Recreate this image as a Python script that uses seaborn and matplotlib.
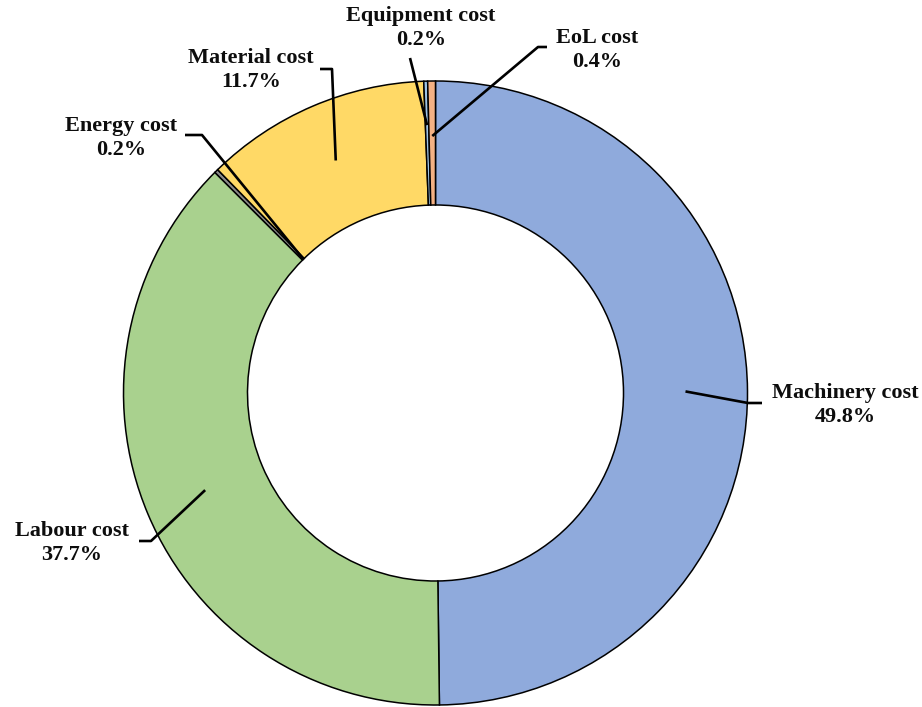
import numpy as np
import matplotlib
matplotlib.use("Agg")
import matplotlib.pyplot as plt
import seaborn as sns

# Cost breakdown (share of total, %), listed clockwise from 12 o'clock
categories = ["Machinery cost", "Labour cost", "Energy cost",
              "Material cost", "Equipment cost", "EoL cost"]
shares = [49.8, 37.7, 0.2, 11.7, 0.2, 0.4]
colors = ["#8FAADC", "#A9D18E", "#8C8C8C", "#FFD966", "#9DC3E6", "#F4B183"]

sns.set_theme(style="white")
plt.rcParams["font.family"] = ["Liberation Serif", "DejaVu Serif"]

W, H = 922, 707
fig = plt.figure(figsize=(W / 100, H / 100), dpi=100)
ax = fig.add_axes([0, 0, 1, 1])

# Ring geometry in pixel-like data units
cx, cy = 435.5, H - 393
R = 312
ring = 124

wedges, _ = ax.pie(
    shares, colors=colors, startangle=90, counterclock=False,
    center=(cx, cy), radius=R, frame=True,
    wedgeprops=dict(width=ring, edgecolor="black", linewidth=1.1),
)
ax.set_xlim(0, W)
ax.set_ylim(0, H)
ax.set_aspect("equal")
ax.axis("off")

# Label placement: text centre, elbow points of the leader line (top-left origin),
# and the radius at which the leader meets its wedge
label_layout = {
    "Machinery cost": dict(text=(845, 405), elbow=[(762, 403), (748, 403)], r=250),
    "Labour cost":    dict(text=(72, 543),  elbow=[(139, 541), (151, 541)], r=250),
    "Energy cost":    dict(text=(121, 138), elbow=[(185, 135), (202, 135)], r=R - ring),
    "Material cost":  dict(text=(251, 70),  elbow=[(320, 69), (332, 69)], r=253),
    "Equipment cost": dict(text=(421, 28),  elbow=[(410, 58)], r=268),
    "EoL cost":       dict(text=(597, 50),  elbow=[(547, 47), (538, 47)], r=257),
}

for wedge, name, val in zip(wedges, categories, shares):
    spec = label_layout[name]
    mid = np.deg2rad((wedge.theta1 + wedge.theta2) / 2)
    ax_pt = (cx + spec["r"] * np.cos(mid), cy + spec["r"] * np.sin(mid))
    xs = [p[0] for p in spec["elbow"]] + [ax_pt[0]]
    ys = [H - p[1] for p in spec["elbow"]] + [ax_pt[1]]
    ax.plot(xs, ys, color="black", lw=1.9, solid_capstyle="butt", zorder=5)
    tx, ty = spec["text"]
    ax.text(tx, H - ty, f"{name}\n{val:.1f}%", ha="center", va="center",
            fontsize=16, fontweight="bold", color="#0d0d0d", linespacing=1.3)

fig.savefig("out.png", dpi=100, facecolor="white")
